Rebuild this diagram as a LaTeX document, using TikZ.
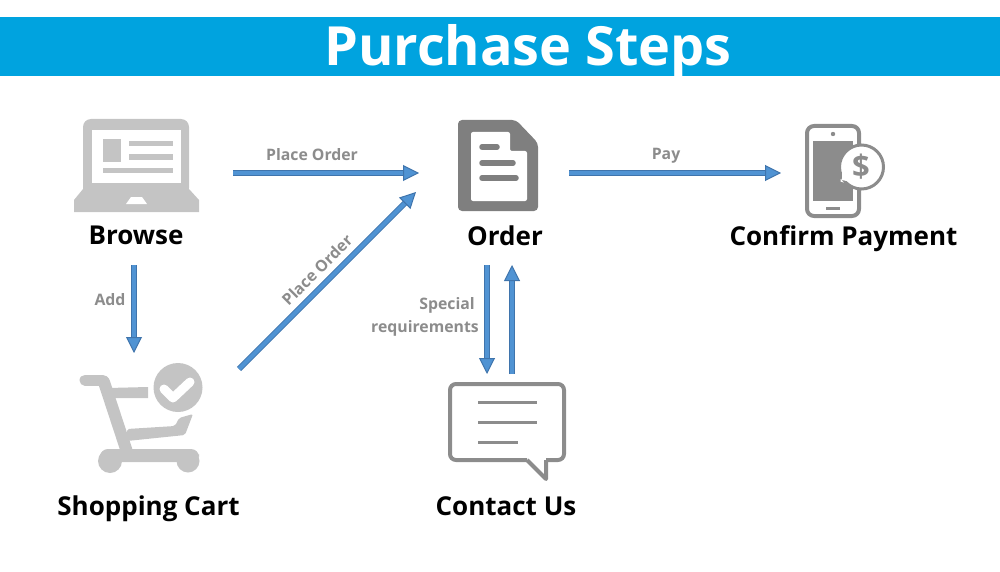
\documentclass[tikz,border=0pt]{standalone}
\usepackage{fontspec}
\setmainfont{Open Sans}
\usetikzlibrary{arrows.meta}
\definecolor{psBanner}{HTML}{00A3DF}
\definecolor{psFlow}{HTML}{5093D3}
\definecolor{psEdge}{HTML}{3F74AC}
\definecolor{psPale}{HTML}{C4C4C4}
\definecolor{psDark}{HTML}{7F7F7F}
\definecolor{psGray}{HTML}{8C8C8C}
\tikzset{
  ps flow/.style={draw=psEdge, line width=1pt, double=psFlow, double distance=4pt,
    -{Triangle[length=16pt,width=16pt,fill=psFlow]}},
  ps box/.style={inner sep=0pt, outer sep=0pt, minimum height=60pt},
  ps step/.style={font=\fontsize{26}{30}\selectfont\bfseries, text=black, inner sep=0pt},
  ps note/.style={font=\fontsize{15.8}{23}\selectfont\bfseries, text=psGray, inner sep=0pt, align=right},
  ps pale/.style={draw=psPale, line width=11pt, line cap=round, line join=round},
  ps outline/.style={draw=psGray, line width=4pt, line join=round},
}

\begin{document}
\begin{tikzpicture}[x=1pt,y=-1pt]
  \useasboundingbox (0,0) rectangle (1000,572);
  \fill[psBanner] (0,17) rectangle (1000,76);
  \node[inner sep=0pt, text=white, font=\fontsize{54}{60}\selectfont\bfseries] (title) at (528,51) {Purchase Steps};

  % laptop
  \fill[psPale, rounded corners=8pt] (83,196) -- (83,119) -- (189,119) -- (189,196) -- cycle;
  \fill[psPale] (83,189) -- (189,189) -- (199,200) -- (199,212) -- (74,212) -- (74,200) -- cycle;
  \fill[white] (92,130) rectangle (181,183);
  \fill[white] (131,197) -- (142,197) -- (147,204) -- (126,204) -- cycle;
  \fill[psPale] (103,139) rectangle (121,162);
  \foreach \xa/\ya/\xb/\yb in {129/141/173/146, 129/154/173/160, 103/168/173/173}
    \fill[psPale] (\xa,\ya) rectangle (\xb,\yb);

  % cart
  \draw[ps pale] (85,380) -- (103,380);
  \draw[psPale, line width=12pt, line cap=round] (104,382) -- (127,452);
  \fill[psPale] (108,388) -- (148,387) -- (148,398) -- (112,398) -- cycle;
  \fill[psPale, rounded corners=2pt] (127,429) -- (175,426) -- (179,418) -- (193,414) -- (185,435) -- (127,441) -- cycle;
  \fill[psPale, rounded corners=8pt] (100,462) -- (100,449) -- (199,449) -- (199,462) -- cycle;
  \fill[psPale] (110,461) circle (12);
  \fill[psPale] (188,461) circle (11.5);
  \draw[white, line width=3pt] (178,387) circle (26);
  \fill[psPale] (178,387.5) circle (24.5);
  \draw[white, line width=9pt, line join=round, line cap=round] (164,389) -- (173,398) -- (190,382);

  % document
  \fill[psDark, rounded corners=4pt] (458,120) -- (516,120) -- (538,143) -- (538,211) -- (458,211) -- cycle;
  \fill[white, rounded corners=2pt] (471,132) -- (510,132) -- (510,151) -- (527,151) -- (527,201) -- (471,201) -- cycle;
  \foreach \yy/\xx in {147/497, 163/513, 178/516}
    \draw[psDark, line width=5.5pt, line cap=round] (482,\yy) -- (\xx,\yy);

  % phone
  \draw[ps outline, rounded corners=7pt] (807,126) rectangle (859,216);
  \fill[psGray] (833,134) circle (2.2);
  \fill[psGray] (813,141) rectangle (853,201);
  \draw[psGray, line width=3pt] (826,208) -- (840,208);
  \draw[psGray, line width=3pt, fill=white, line join=round] (840,165) -- (839,183) -- (852,186) -- cycle;
  \draw[psGray, line width=3pt, fill=white] (861.5,167) circle (22);
  \fill[white] (842,170) -- (842,180) -- (851,182) -- cycle;
  \node[inner sep=0pt, text=psGray, font=\fontsize{31}{31}\selectfont\bfseries] (dollar) at (861,167) {\$};

  % speech bubble
  \draw[ps outline, rounded corners=6pt] (527,460) -- (450,460) -- (450,384) -- (564,384) -- (564,460) -- (546,460);
  \draw[ps outline] (527,460) -- (546,479) -- (546,460);
  \foreach \yy/\xx in {402/537, 422/537, 442/518}
    \draw[psGray, line width=3pt] (478,\yy) -- (\xx,\yy);

  % boxes that the arrows leave from and run to
  \node[ps box, minimum width=194pt] (laptop) at (136,173) {};
  \node[ps box, minimum width=150pt] (document) at (494,173) {};
  \node[ps box, minimum width=128pt] (phone) at (845,173) {};
  \coordinate (cartout) at (239,369);
  \coordinate (orderin) at (416,192);
  \coordinate (addfrom) at (134,265);
  \coordinate (addto) at (134,353);
  \coordinate (askfrom) at (487,265);
  \coordinate (askto) at (487,374);
  \coordinate (backfrom) at (512,374);
  \coordinate (backto) at (512,265);

  \node[ps step] (browse) at (136,235) {Browse};
  \node[ps step] (order) at (505,236) {Order};
  \node[ps step] (payment) at (843.5,239) {Confirm Payment};
  \node[ps step] (cart) at (148.5,509) {Shopping Cart};
  \node[ps step] (contact) at (506,506) {Contact Us};

  \draw[ps flow] (laptop.east) -- (document.west);
  \draw[ps flow] (document.east) -- (phone.west);
  \draw[ps flow] (cartout) -- (orderin);
  \draw[ps flow] (addfrom) -- (addto);
  \draw[ps flow] (askfrom) -- (askto);
  \draw[ps flow] (backfrom) -- (backto);

  \node[ps note] (placetop) at (312,155) {Place Order};
  \node[ps note, rotate=45] (placeup) at (317,270) {Place Order};
  \node[ps note] (pay) at (666,156) {Pay};
  \node[ps note] (add) at (110,300) {Add};
  \node[ps note] (special) at (425,315) {Special\hspace*{4pt}\strut\\requirements};
\end{tikzpicture}
\end{document}
